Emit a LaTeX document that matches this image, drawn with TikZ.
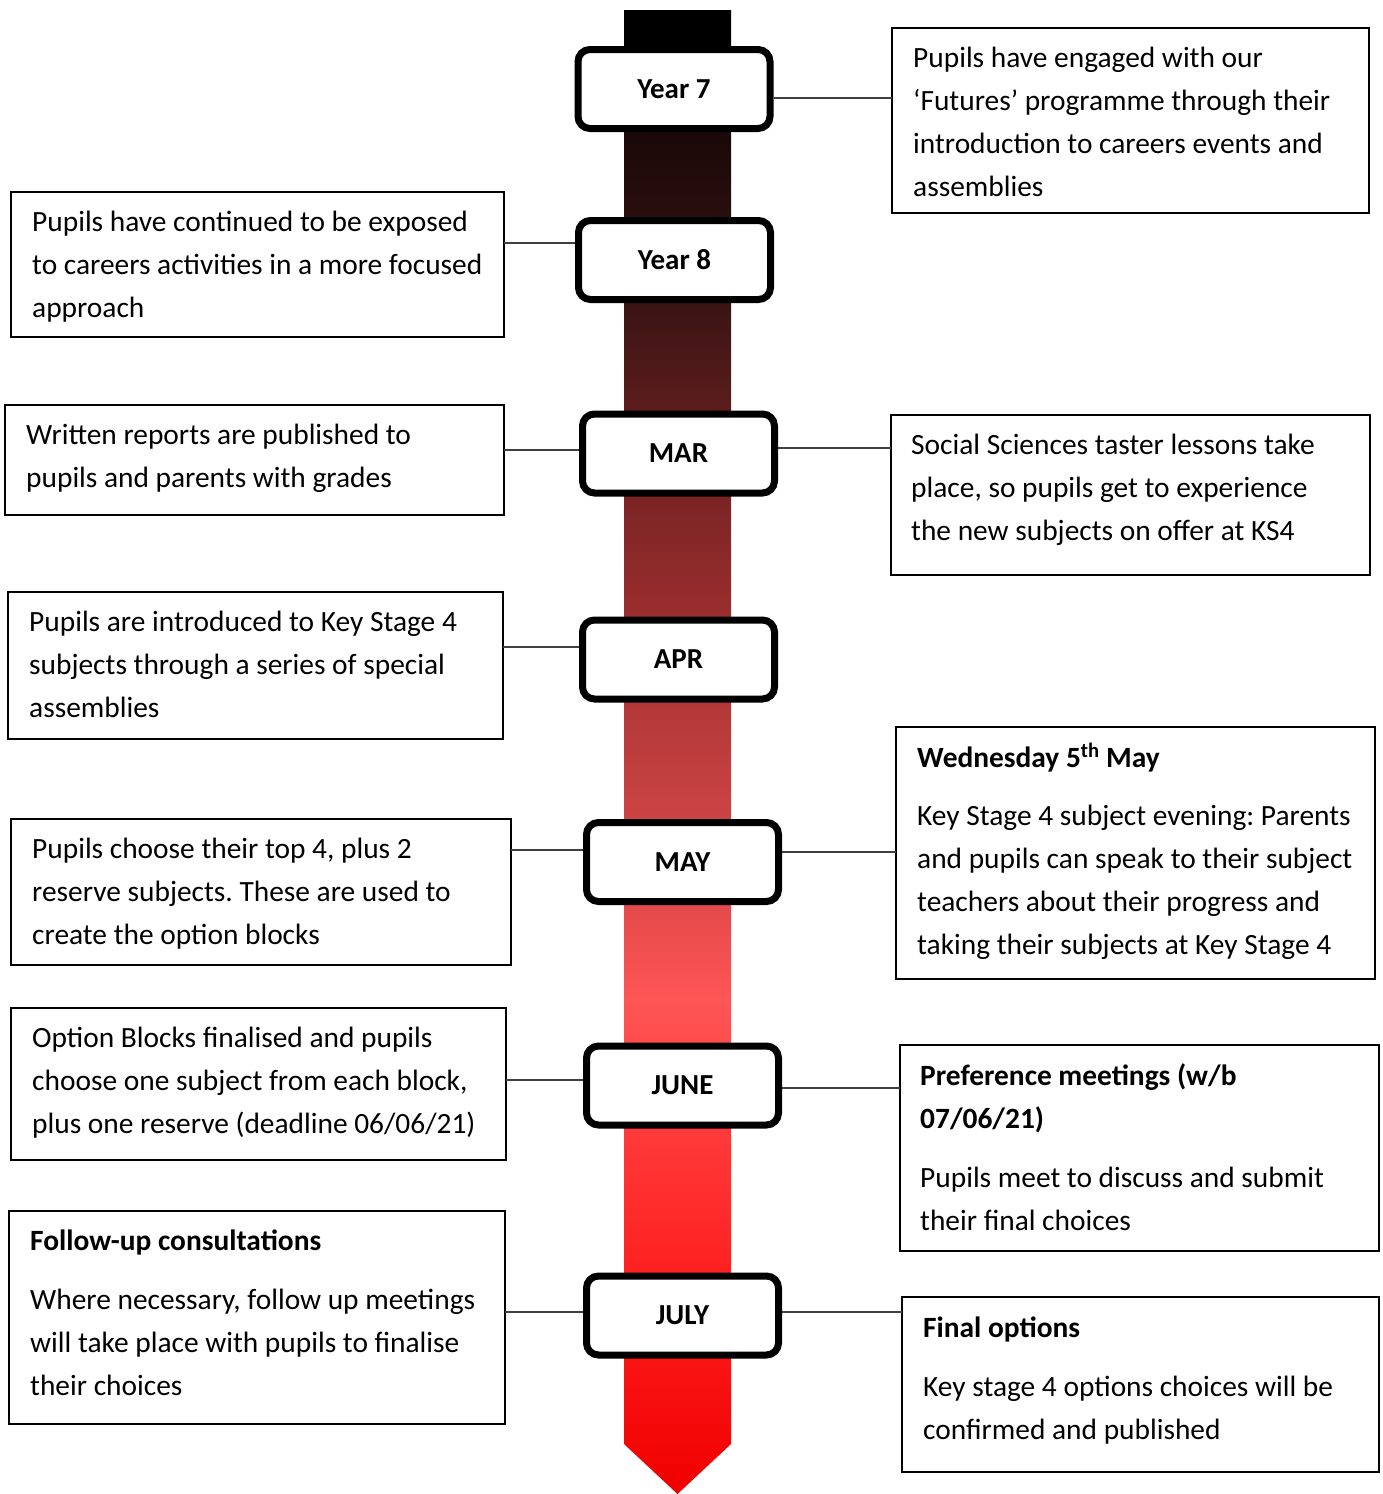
\documentclass[tikz,border=0pt]{standalone}
\usepackage{fontspec}
\setmainfont{Carlito}
\frenchspacing
\definecolor{s0}{HTML}{F00000}
\definecolor{s1}{HTML}{FF2020}
\definecolor{s2}{HTML}{FF3A3A}
\definecolor{s3}{HTML}{FF5555}
\definecolor{s4}{HTML}{E44A4A}
\definecolor{s5}{HTML}{CC4444}
\definecolor{s6}{HTML}{B23838}
\definecolor{s7}{HTML}{9C2E2E}
\definecolor{s8}{HTML}{7A2424}
\definecolor{s9}{HTML}{5C1C1C}
\definecolor{s10}{HTML}{3A1414}
\definecolor{s11}{HTML}{2A0E0E}
\definecolor{s12}{HTML}{1A0808}
\pgfdeclareverticalshading{arrowshade}{100bp}{color(0bp)=(s0); color(25bp)=(s0); color(32.45bp)=(s1); color(37.33bp)=(s2); color(41.65bp)=(s3); color(44.85bp)=(s4); color(47.74bp)=(s5); color(51.68bp)=(s6); color(54.55bp)=(s7); color(58.63bp)=(s8); color(61.49bp)=(s9); color(65.16bp)=(s10); color(67.99bp)=(s11); color(70.92bp)=(s12); color(73.65bp)=(black); color(100bp)=(black)}
\tikzset{
  month/.style={draw=black, line width=7pt, rounded corners=12pt, fill=white,
    minimum width=192pt, minimum height=79pt, inner sep=0pt,
    text height=18.5pt, text depth=0pt,
    font=\bfseries\fontsize{29}{31}\selectfont},
  infobox/.style={draw=black, line width=2pt, anchor=north west, inner sep=0pt, outer sep=0pt},
  txt/.style={anchor=base west, inner sep=0pt, font=\fontsize{29.4}{43}\selectfont},
  conn/.style={draw=black!75, line width=1.5pt}
}
\newcommand{\tb}[1]{\parbox[t]{600pt}{\raggedright #1}}
\begin{document}
\begin{tikzpicture}[x=1pt,y=-1pt]
\useasboundingbox (0,0) rectangle (1382,1494);
% gradient arrow
\shade[shading=arrowshade] (624,10) -- (731,10) -- (731,1444) -- (677.5,1494) -- (624,1444) -- cycle;
% month boxes
\node[month] (y7) at (674,89) {Year 7};
\node[month] (y8) at (674.5,260) {Year 8};
\node[month] (mar) at (678.5,453.5) {MAR};
\node[month] (apr) at (678.5,659.5) {APR};
\node[month] (may) at (682.5,862) {MAY};
\node[month] (jun) at (682.5,1085.5) {JUNE};
\node[month] (jul) at (682.5,1315.5) {JULY};
% info boxes
\node[infobox, minimum width=477pt, minimum height=185pt] (r1) at (892,28) {};
\node[infobox, minimum width=493pt, minimum height=145pt] (l1) at (11,192) {};
\node[infobox, minimum width=499pt, minimum height=110pt] (l2) at (5,405) {};
\node[infobox, minimum width=479pt, minimum height=160pt] (r2) at (891,415) {};
\node[infobox, minimum width=495pt, minimum height=147pt] (l3) at (8,592) {};
\node[infobox, minimum width=479pt, minimum height=252pt] (r3) at (896,727) {};
\node[infobox, minimum width=500pt, minimum height=146pt] (l4) at (11,819) {};
\node[infobox, minimum width=495pt, minimum height=152pt] (l5) at (11,1008) {};
\node[infobox, minimum width=479pt, minimum height=206pt] (r4) at (900,1045) {};
\node[infobox, minimum width=496pt, minimum height=213pt] (l6) at (9,1211) {};
\node[infobox, minimum width=477pt, minimum height=175pt] (r5) at (902,1297) {};
% texts
\node[txt] (r1t) at ([xshift=21pt,yshift=-39pt]r1.north west) {\tb{Pupils have engaged with our\\‘Futures’ programme through their\\introduction to careers events and\\assemblies}};
\node[txt] (l1t) at ([xshift=21pt,yshift=-39pt]l1.north west) {\tb{Pupils have continued to be exposed\\to careers activities in a more focused\\approach}};
\node[txt] (l2t) at ([xshift=21pt,yshift=-39pt]l2.north west) {\tb{Written reports are published to\\pupils and parents with grades}};
\node[txt] (r2t) at ([xshift=20pt,yshift=-39pt]r2.north west) {\tb{Social Sciences taster lessons take\\place, so pupils get to experience\\the new subjects on offer at KS4}};
\node[txt] (l3t) at ([xshift=21pt,yshift=-39pt]l3.north west) {\tb{Pupils are introduced to Key Stage 4\\subjects through a series of special\\assemblies}};
\node[txt] (r3t) at ([xshift=21pt,yshift=-40pt]r3.north west) {\tb{\textbf{Wednesday 5\textsuperscript{th} May}\\[15pt]Key Stage 4 subject evening: Parents\\and pupils can speak to their subject\\teachers about their progress and\\taking their subjects at Key Stage 4}};
\node[txt] (l4t) at ([xshift=21pt,yshift=-39pt]l4.north west) {\tb{Pupils choose their top 4, plus 2\\reserve subjects. These are used to\\create the option blocks}};
\node[txt] (l5t) at ([xshift=21pt,yshift=-39pt]l5.north west) {\tb{Option Blocks finalised and pupils\\choose one subject from each block,\\plus one reserve (deadline 06/06/21)}};
\node[txt] (r4t) at ([xshift=20pt,yshift=-40pt]r4.north west) {\tb{\textbf{Preference meetings (w/b}\\\textbf{07/06/21)}\\[16pt]Pupils meet to discuss and submit\\their final choices}};
\node[txt] (l6t) at ([xshift=21pt,yshift=-39pt]l6.north west) {\tb{\textbf{Follow-up consultations}\\[16pt]Where necessary, follow up meetings\\will take place with pupils to finalise\\their choices}};
\node[txt] (r5t) at ([xshift=21pt,yshift=-40pt]r5.north west) {\tb{\textbf{Final options}\\[16pt]Key stage 4 options choices will be\\confirmed and published}};
% connectors
\coordinate (k1) at (0,98);
\coordinate (k2) at (0,243);
\coordinate (k3) at (0,450);
\coordinate (k4) at (0,448);
\coordinate (k5) at (0,647);
\coordinate (k6) at (0,850);
\coordinate (k7) at (0,852);
\coordinate (k8) at (0,1080);
\coordinate (k9) at (0,1088);
\coordinate (k10) at (0,1312);
\draw[conn] (y7.east |- k1) -- (r1.west |- k1);
\draw[conn] (l1.east |- k2) -- (y8.west |- k2);
\draw[conn] (l2.east |- k3) -- (mar.west |- k3);
\draw[conn] (mar.east |- k4) -- (r2.west |- k4);
\draw[conn] (l3.east |- k5) -- (apr.west |- k5);
\draw[conn] (l4.east |- k6) -- (may.west |- k6);
\draw[conn] (may.east |- k7) -- (r3.west |- k7);
\draw[conn] (l5.east |- k8) -- (jun.west |- k8);
\draw[conn] (jun.east |- k9) -- (r4.west |- k9);
\draw[conn] (l6.east |- k10) -- (jul.west |- k10);
\draw[conn] (jul.east |- k10) -- (r5.west |- k10);
\end{tikzpicture}
\end{document}
